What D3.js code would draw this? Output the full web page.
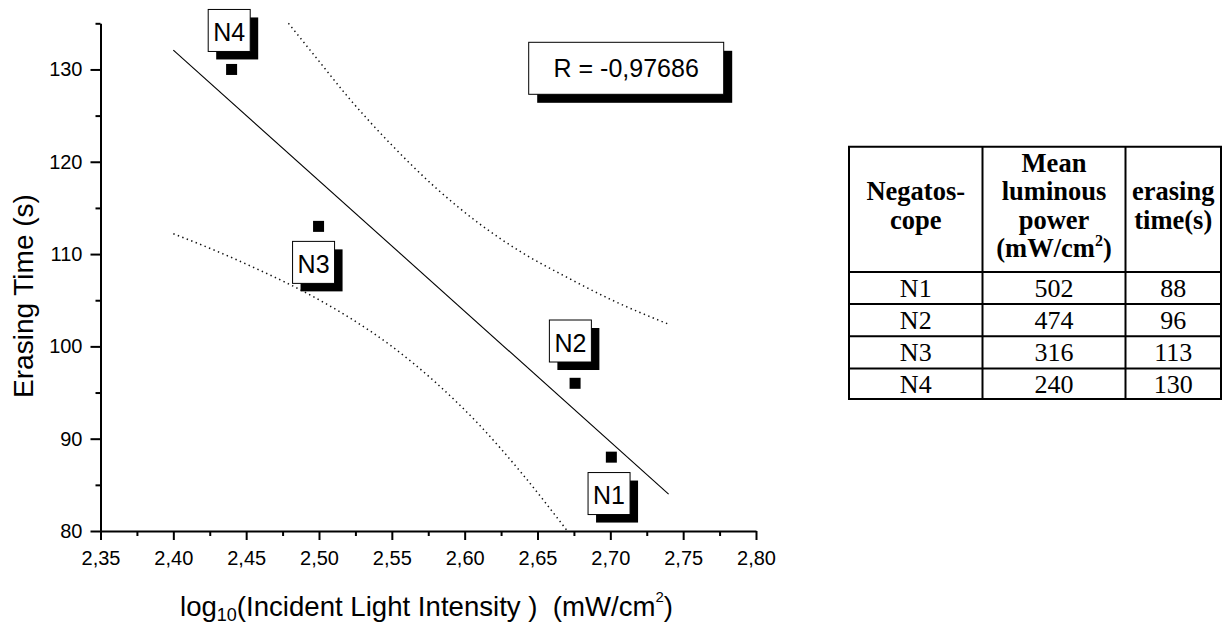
<!DOCTYPE html>
<html>
<head>
<meta charset="utf-8">
<script src="https://cdn.jsdelivr.net/npm/d3@7/dist/d3.min.js"></script>
<style>
  html, body { margin: 0; padding: 0; background: #fff; }
  svg { display: block; }
  .axis text { font-family: "Liberation Sans", Arial, sans-serif; font-size: 20px; fill: #000; }
  .axis path, .axis line { stroke: #000; }
</style>
</head>
<body>
<svg id="chart" width="1231" height="630"></svg>
<script>
// ---------------- data ----------------
const labels = ["N1", "N2", "N3", "N4"];
const logIntensity = [2.7007, 2.6758, 2.4997, 2.44];
const erasingTime = [88, 96, 113, 130];
const meanPower = [502, 474, 316, 240];

const fitX = [2.40, 2.74];
const fitY = [132.1, 84.0];

const upperX = [2.479, 2.50, 2.52, 2.55, 2.58, 2.61, 2.64, 2.67, 2.70, 2.74];
const upperY = [135.0, 130.9, 127.0, 121.8, 117.2, 113.3, 110.1, 107.5, 105.1, 102.4];
const lowerX = [2.40, 2.43, 2.46, 2.49, 2.52, 2.55, 2.58, 2.61, 2.64, 2.6705];
const lowerY = [112.2, 110.3, 108.2, 105.9, 103.2, 100.0, 96.1, 91.5, 86.1, 80.0];

const xTicks = [2.35, 2.40, 2.45, 2.50, 2.55, 2.60, 2.65, 2.70, 2.75, 2.80];
const xMinor = [2.375, 2.425, 2.475, 2.525, 2.575, 2.625, 2.675, 2.725, 2.775];
const yTicks = [80, 90, 100, 110, 120, 130];
const yMinor = [85, 95, 105, 115, 125, 135];

const rText = "R = -0,97686";
const tableHeader = [["Negatos-", "cope"], ["Mean", "luminous", "power", "(mW/cm"], ["erasing", "time(s)"]];

// ---------------- layout ----------------
const svg = d3.select("#chart");
const sans = '"Liberation Sans", Arial, sans-serif';
const serif = '"Liberation Serif", "Times New Roman", serif';

const x = d3.scaleLinear().domain([2.35, 2.80]).range([100.5, 756]);
const y = d3.scaleLinear().domain([80, 135]).range([531, 23.3]);
const fmt = v => d3.format(".2f")(v).replace(".", ",");

// minor ticks
svg.append("g").attr("class", "axis")
  .attr("transform", `translate(0,${y(80)})`)
  .call(d3.axisBottom(x).tickValues(xMinor).tickSize(5).tickSizeOuter(0).tickFormat(""))
  .call(g => g.select(".domain").remove())
  .selectAll("line").attr("stroke-width", 2);
svg.append("g").attr("class", "axis")
  .attr("transform", `translate(${x(2.35)},0)`)
  .call(d3.axisLeft(y).tickValues(yMinor).tickSize(5).tickSizeOuter(0).tickFormat(""))
  .call(g => g.select(".domain").remove())
  .selectAll("line").attr("stroke-width", 2);

// major axes
const gx = svg.append("g").attr("class", "axis")
  .attr("transform", `translate(0,${y(80)})`)
  .call(d3.axisBottom(x).tickValues(xTicks).tickSize(9).tickSizeOuter(0).tickPadding(11).tickFormat(fmt));
gx.selectAll("line").attr("stroke-width", 2);
gx.select(".domain").attr("stroke-width", 2);

const gy = svg.append("g").attr("class", "axis")
  .attr("transform", `translate(${x(2.35)},0)`)
  .call(d3.axisLeft(y).tickValues(yTicks).tickSize(10).tickSizeOuter(0).tickPadding(8));
gy.selectAll("line").attr("stroke-width", 2);
gy.select(".domain").attr("stroke-width", 2);

// axis titles
const xt = svg.append("text")
  .attr("x", 180).attr("y", 616)
  .attr("font-family", sans).attr("font-size", 27.6).attr("fill", "#000");
xt.append("tspan").text("log");
xt.append("tspan").attr("font-size", 18).attr("dy", 5).text("10");
xt.append("tspan").attr("dy", -5).text("(Incident Light Intensity )\u00a0 (mW/cm");
xt.append("tspan").attr("font-size", 15).attr("dy", -14).text("2");
xt.append("tspan").attr("dy", 14).text(")");

svg.append("text")
  .attr("transform", "translate(33,296) rotate(-90)")
  .attr("text-anchor", "middle")
  .attr("font-family", sans).attr("font-size", 28).attr("fill", "#000")
  .text("Erasing Time (s)");

// confidence bands (dotted)
const bandLine = d3.line().x(d => x(d[0])).y(d => y(d[1])).curve(d3.curveMonotoneX);
[[upperX, upperY], [lowerX, lowerY]].forEach(([bx, by]) => {
  svg.append("path")
    .attr("d", bandLine(d3.zip(bx, by)))
    .attr("fill", "none").attr("stroke", "#111").attr("stroke-width", 1.5)
    .attr("stroke-dasharray", "1.4,3.4");
});

// regression line
svg.append("path")
  .attr("d", d3.line().x(d => x(d[0])).y(d => y(d[1]))(d3.zip(fitX, fitY)))
  .attr("fill", "none").attr("stroke", "#000").attr("stroke-width", 1.1);

// points
const pts = labels.map((l, i) => ({ label: l, x: logIntensity[i], y: erasingTime[i] }));
const ms = 11;
svg.selectAll("rect.pt").data(pts).enter().append("rect")
  .attr("class", "pt")
  .attr("x", d => x(d.x) - ms / 2).attr("y", d => y(d.y) - ms / 2)
  .attr("width", ms).attr("height", ms).attr("fill", "#000");

// label boxes (offset of box top-left from point)
const labelOffset = { N1: [-23.3, 15.4], N2: [-25.7, -63.3], N3: [-26, 15], N4: [-23.4, -60] };
const bs = 42, sh = 8;
const lg = svg.selectAll("g.lbl").data(pts).enter().append("g")
  .attr("class", "lbl")
  .attr("transform", d => `translate(${x(d.x) + labelOffset[d.label][0]},${y(d.y) + labelOffset[d.label][1]})`);
lg.append("rect").attr("x", sh).attr("y", sh).attr("width", bs).attr("height", bs).attr("fill", "#000");
lg.append("rect").attr("x", 0).attr("y", 0).attr("width", bs).attr("height", bs)
  .attr("fill", "#fff").attr("stroke", "#000").attr("stroke-width", 1);
lg.append("text").attr("x", bs / 2).attr("y", 31.5).attr("text-anchor", "middle")
  .attr("font-family", sans).attr("font-size", 25).attr("fill", "#000")
  .text(d => d.label);

// R box
const rg = svg.append("g").attr("transform", "translate(528.7,42.3)");
rg.append("rect").attr("x", 8.5).attr("y", 8.5).attr("width", 195).attr("height", 52).attr("fill", "#000");
rg.append("rect").attr("width", 195).attr("height", 52).attr("fill", "#fff").attr("stroke", "#000").attr("stroke-width", 1);
rg.append("text").attr("x", 97.5).attr("y", 34.4).attr("text-anchor", "middle")
  .attr("font-family", sans).attr("font-size", 25).attr("fill", "#000").text(rText);

// ---------------- table ----------------
const colEdges = [849, 982.5, 1125.5, 1221];
const rowEdges = [146.7, 272, 304, 336.3, 368.5, 399];
const tg = svg.append("g");
const colCenter = i => (colEdges[i] + colEdges[i + 1]) / 2;

tg.selectAll("line.h").data(rowEdges).enter().append("line")
  .attr("x1", colEdges[0] - 1).attr("x2", colEdges[3] + 1)
  .attr("y1", d => d).attr("y2", d => d)
  .attr("stroke", "#000").attr("stroke-width", 2);
tg.selectAll("line.v").data(colEdges).enter().append("line")
  .attr("x1", d => d).attr("x2", d => d)
  .attr("y1", rowEdges[0]).attr("y2", rowEdges[rowEdges.length - 1])
  .attr("stroke", "#000").attr("stroke-width", 2);

const headerBase = [171.5, 200, 228.5, 257];
tableHeader.forEach((lines, ci) => {
  const offset = lines.length === 4 ? 0 : 1;
  lines.forEach((ln, li) => {
    const t = tg.append("text")
      .attr("x", colCenter(ci)).attr("y", headerBase[li + offset])
      .attr("text-anchor", "middle")
      .attr("font-family", serif).attr("font-weight", "bold").attr("font-size", 26.5).attr("fill", "#000");
    if (ln === "(mW/cm") {
      t.append("tspan").text(ln);
      t.append("tspan").attr("font-size", 16).attr("dy", -11).text("2");
      t.append("tspan").attr("dy", 11).text(")");
    } else {
      t.text(ln);
    }
  });
});

const rowsData = labels.map((l, i) => [l, String(meanPower[i]), String(erasingTime[i])]);
rowsData.forEach((r, ri) => {
  const cy = (rowEdges[ri + 1] + rowEdges[ri + 2]) / 2;
  r.forEach((cell, ci) => {
    tg.append("text").attr("x", colCenter(ci)).attr("y", cy + 8.8)
      .attr("text-anchor", "middle")
      .attr("font-family", serif).attr("font-size", 26).attr("fill", "#000")
      .text(cell);
  });
});
</script>
</body>
</html>
